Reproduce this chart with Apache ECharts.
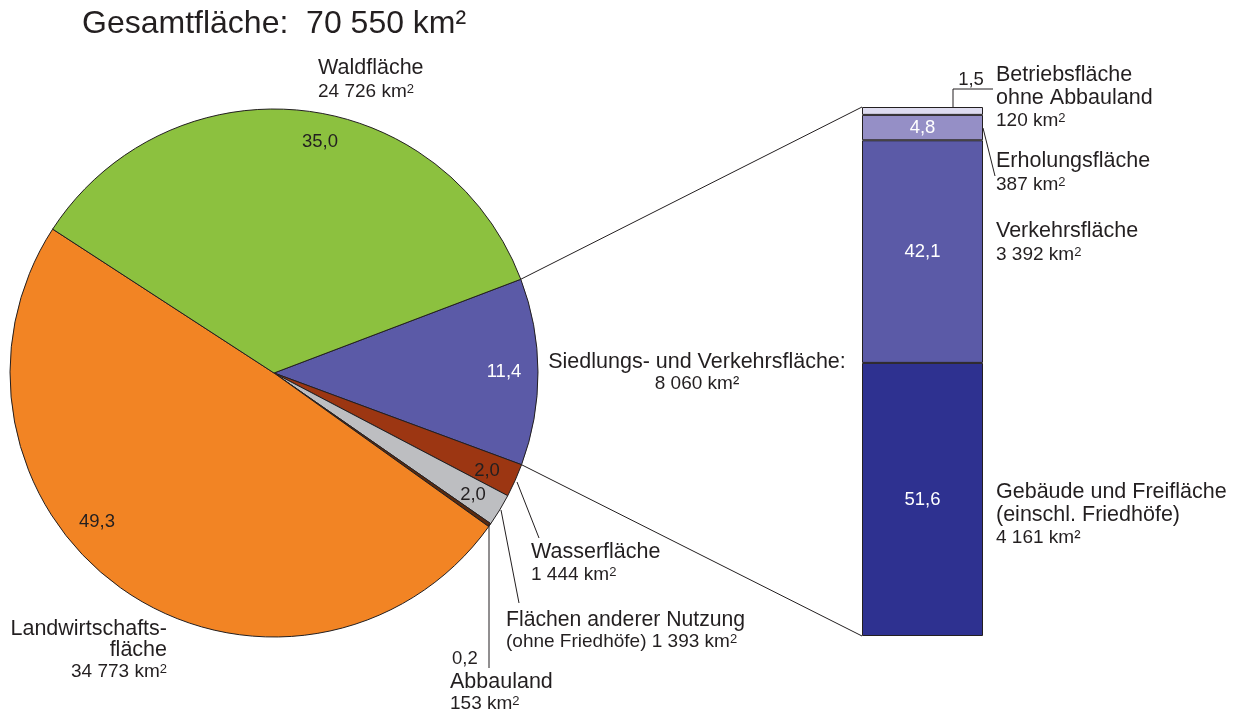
<!DOCTYPE html>
<html>
<head>
<meta charset="utf-8">
<script src="https://cdn.jsdelivr.net/npm/echarts@6/dist/echarts.min.js"></script>
<style>
  html, body { margin: 0; padding: 0; background: #fff; }
  #main { width: 1242px; height: 717px; }
</style>
</head>
<body>
<div id="main"></div>
<script>
  // Daten: Flächennutzung (km²)
  const pieNames = ['Siedlungs- und Verkehrsfläche', 'Wasserfläche', 'Flächen anderer Nutzung', 'Abbauland', 'Landwirtschaftsfläche', 'Waldfläche'];
  const pieArea = [8060, 1444, 1393, 153, 34773, 24726];
  const pieShare = [11.4, 2.0, 2.0, 0.2, 49.3, 35.0];
  const pieColors = ['#5b5aa7', '#9c3612', '#bdbec1', '#5a2a0f', '#f28424', '#8cc13f'];

  // Aufteilung Siedlungs- und Verkehrsfläche (von unten nach oben)
  const barNames = ['Gebäude und Freifläche', 'Verkehrsfläche', 'Erholungsfläche', 'Betriebsfläche ohne Abbauland'];
  const barArea = [4161, 3392, 387, 120];
  const barShare = [51.6, 42.1, 4.8, 1.5];
  const barColors = ['#2e3190', '#5b5aa7', '#958fc6', '#dddbef'];

  const INK = '#231f20';
  const FONT = '"Liberation Sans", Arial, Helvetica, sans-serif';
  const NAME = 21.5, KM = 19, VAL = 18.5;

  // Layout
  const pieCx = 274, pieCy = 373, pieR = 264, startAngle = 20.8;
  const barLeft = 862, barTop = 107, barW = 121, barH = 529;

  const fmt = v => v.toFixed(1).replace('.', ',');
  const total = pieArea.reduce((a, b) => a + b, 0);

  const chart = echarts.init(document.getElementById('main'));

  // "km2" -> hochgestellte 2 per rich text
  function txt(x, y, text, size, opts) {
    opts = opts || {};
    const align = opts.align || 'left';
    const hasSup = text.indexOf('km2') >= 0;
    const style = {
      x: x, y: y,
      text: hasSup ? text.replace('km2', 'km{s|2}') : text,
      font: size + 'px ' + FONT,
      fill: opts.fill || INK,
      align: align, textAlign: align,
      verticalAlign: 'middle', textVerticalAlign: 'middle'
    };
    if (hasSup) {
      style.rich = {
        s: { fontSize: Math.round(size * 0.68), fontFamily: FONT, fill: opts.fill || INK, verticalAlign: 'top', lineHeight: size }
      };
    }
    return { type: 'text', silent: true, z: 100, style: style };
  }
  function line(x1, y1, x2, y2) {
    return {
      type: 'line', silent: true, z: 90,
      shape: { x1: x1, y1: y1, x2: x2, y2: y2 },
      style: { stroke: INK, lineWidth: 1 }
    };
  }
  function polyline(pts) {
    return {
      type: 'polyline', silent: true, z: 90,
      shape: { points: pts },
      style: { stroke: INK, lineWidth: 1, fill: null }
    };
  }
  function piePoint(deg) {
    const a = deg * Math.PI / 180;
    return [pieCx + pieR * Math.cos(a), pieCy - pieR * Math.sin(a)];
  }

  // Kanten des Siedlungssegments -> Balken
  const sweep = 360 * pieArea[0] / total;
  const pUp = piePoint(startAngle);
  const pDown = piePoint(startAngle - sweep);

  const graphics = [
    txt(82, 24, 'Gesamtfläche:  70 550 km²', 32),

    // Wald
    txt(318, 68, 'Waldfläche', NAME),
    txt(318, 92, '24 726 km2', KM),
    // Landwirtschaft
    txt(167, 629, 'Landwirtschafts-', NAME, { align: 'right' }),
    txt(167, 650, 'fläche', NAME, { align: 'right' }),
    txt(167, 672, '34 773 km2', KM, { align: 'right' }),
    // Siedlung
    txt(697, 362, 'Siedlungs- und Verkehrsfläche:', NAME, { align: 'center' }),
    txt(697, 384, '8 060 km²', KM, { align: 'center' }),
    // Wasser
    txt(531, 552, 'Wasserfläche', NAME),
    txt(531, 575, '1 444 km2', KM),
    line(517, 482, 539, 538),
    // andere Nutzung
    txt(506, 620, 'Flächen anderer Nutzung', 21.2),
    txt(506, 642, '(ohne Friedhöfe) 1 393 km2', KM),
    line(501, 510, 519, 603),
    // Abbauland
    txt(452, 659, fmt(pieShare[3]), VAL),
    txt(450, 682, 'Abbauland', NAME),
    txt(450, 704, '153 km2', KM),
    line(489, 524, 489, 668),

    // Werte im Kreis
    txt(320, 142, fmt(pieShare[5]), VAL, { align: 'center' }),
    txt(97, 522, fmt(pieShare[4]), VAL, { align: 'center' }),
    txt(504, 372, fmt(pieShare[0]), VAL, { align: 'center', fill: '#ffffff' }),
    txt(487, 471, fmt(pieShare[1]), VAL, { align: 'center' }),
    txt(473, 495, fmt(pieShare[2]), VAL, { align: 'center' }),

    // Verbindungslinien
    line(pUp[0], pUp[1], barLeft, barTop),
    line(pDown[0], pDown[1], barLeft, barTop + barH),

    // Balkenbeschriftung
    txt(971, 80, fmt(barShare[3]), VAL, { align: 'center' }),
    polyline([[953, barTop], [953, 89], [993, 89]]),
    txt(996, 75, 'Betriebsfläche', NAME),
    txt(996, 98, 'ohne Abbauland', NAME),
    txt(996, 121, '120 km2', KM),
    line(983, 128, 995, 176),
    txt(996, 161, 'Erholungsfläche', NAME),
    txt(996, 185, '387 km2', KM),
    txt(996, 231, 'Verkehrsfläche', NAME),
    txt(996, 255, '3 392 km2', KM),
    txt(996, 492, 'Gebäude und Freifläche', NAME),
    txt(996, 515, '(einschl. Friedhöfe)', NAME),
    txt(996, 538, '4 161 km²', KM)
  ];

  const option = {
    animation: false,
    backgroundColor: '#ffffff',
    textStyle: { fontFamily: FONT },
    grid: { left: barLeft, top: barTop, width: barW, height: barH },
    xAxis: { type: 'category', data: ['Siedlung'], show: false },
    yAxis: { type: 'value', min: 0, max: barArea.reduce((a, b) => a + b, 0), show: false },
    series: [
      {
        type: 'pie',
        center: [pieCx, pieCy],
        radius: pieR,
        startAngle: startAngle,
        clockwise: true,
        silent: true,
        label: { show: false },
        labelLine: { show: false },
        itemStyle: { borderColor: INK, borderWidth: 1 },
        data: pieNames.map((n, i) => ({ name: n, value: pieArea[i], itemStyle: { color: pieColors[i] } }))
      }
    ].concat(barNames.map((n, i) => ({
      type: 'bar',
      name: n,
      stack: 'siedlung',
      barWidth: '100%',
      silent: true,
      data: [barArea[i]],
      itemStyle: { color: barColors[i], borderColor: INK, borderWidth: 1 },
      label: {
        show: i < 3,
        position: 'inside',
        color: '#ffffff',
        fontSize: VAL,
        fontFamily: FONT,
        formatter: () => fmt(barShare[i])
      }
    }))),
    graphic: graphics
  };

  chart.setOption(option);
</script>
</body>
</html>
